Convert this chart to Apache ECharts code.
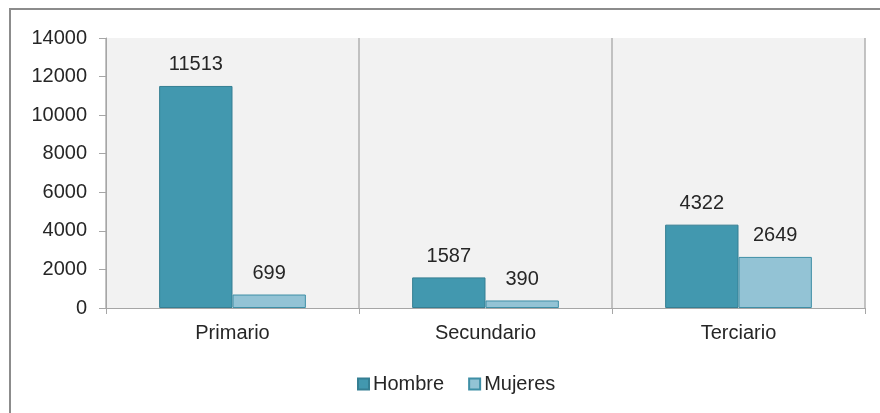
<!DOCTYPE html>
<html>
<head>
<meta charset="utf-8">
<script src="https://cdn.jsdelivr.net/npm/echarts@6/dist/echarts.min.js"></script>
<style>
html,body{margin:0;padding:0;background:#fff;}
#frame{position:absolute;left:9px;top:8px;width:900px;height:420px;border-left:2px solid #8c8c8c;border-top:2px solid #8c8c8c;}
#chart{position:absolute;left:0;top:0;width:880px;height:413px;}
</style>
</head>
<body>
<div id="frame"></div>
<div id="chart"></div>
<script>
const categories = ['Primario', 'Secundario', 'Terciario'];
const hombre = [11513, 1587, 4322];
const mujeres = [699, 390, 2649];
const seriesNames = ['Hombre', 'Mujeres'];
const yTicks = { min: 0, max: 14000, interval: 2000 };

const font = '"Liberation Sans", Arial, sans-serif';
const chart = echarts.init(document.getElementById('chart'), null, { renderer: 'canvas' });
const labelStyle = { show: true, position: 'top', distance: 11, fontSize: 20, color: '#262626', fontFamily: font };
chart.setOption({
  animation: false,
  textStyle: { fontFamily: font },
  grid: { left: 106, right: 15, top: 38, bottom: 105, show: true, backgroundColor: '#f2f2f2', borderWidth: 0 },
  legend: {
    data: seriesNames, left: 352, top: 369, itemWidth: 11, itemHeight: 11, itemGap: 24, icon: 'rect',
    textStyle: { fontSize: 20, color: '#262626', fontFamily: font, padding: [0, 0, 0, -1] }
  },
  xAxis: {
    type: 'category', data: categories,
    axisLine: { lineStyle: { color: '#a6a6a6', width: 1 } },
    axisTick: { show: true, length: 6, lineStyle: { color: '#a6a6a6' } },
    splitLine: { show: true, lineStyle: { color: '#b0b0b0', width: 1.5 } },
    axisLabel: { fontSize: 20, color: '#262626', margin: 15, fontFamily: font }
  },
  yAxis: {
    type: 'value', min: yTicks.min, max: yTicks.max, interval: yTicks.interval,
    axisLine: { show: true, lineStyle: { color: '#a6a6a6', width: 1 } },
    axisTick: { show: true, length: 7, lineStyle: { color: '#a6a6a6' } },
    splitLine: { show: false },
    axisLabel: { fontSize: 20, color: '#262626', margin: 19, fontFamily: font, formatter: v => String(v) }
  },
  series: [
    { name: seriesNames[0], type: 'bar', data: hombre, barGap: '0%', barCategoryGap: '42%',
      itemStyle: { color: '#4298af', borderColor: '#357f93', borderWidth: 1 }, label: labelStyle },
    { name: seriesNames[1], type: 'bar', data: mujeres,
      itemStyle: { color: '#93c3d5', borderColor: '#3f8fa6', borderWidth: 1 }, label: labelStyle }
  ]
});
</script>
</body>
</html>
